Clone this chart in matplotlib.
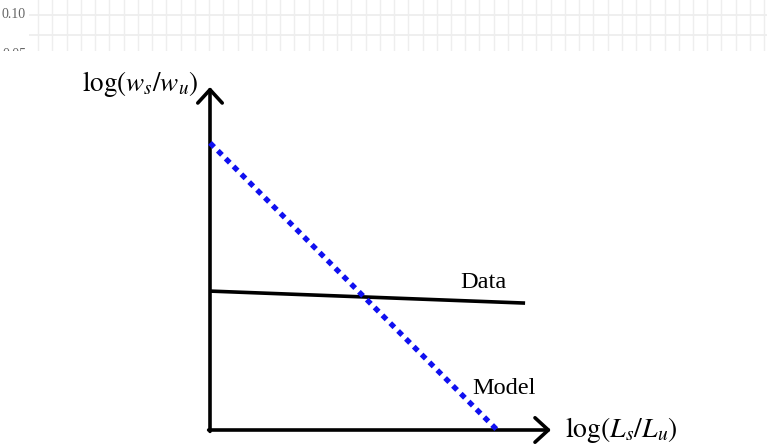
"""
Schematic: log weight ratio vs. log length ratio, comparing the data trend
(nearly flat) with the model prediction (steep slope).
"""

import matplotlib
matplotlib.use("Agg")
import matplotlib.pyplot as plt
from matplotlib.transforms import Bbox, TransformedBbox
import numpy as np

# Schematic endpoints in axis units (origin at the axes corner, arrows at 1.0)
MODEL_X = [0.0, 0.842]
MODEL_Y = [0.837, 0.0]
DATA_X = [0.0, 0.924]
DATA_Y = [0.405, 0.370]

XLABEL = r"$\log(L_s/L_u)$"
YLABEL = r"$\log(w_s/w_u)$"

# Faint strip of a gridded panel along the top edge
STRIP_YTICKS = [0.10, 0.05]
STRIP_YTICKLABELS = ["0.10", "0.05"]
STRIP_XGRID = np.arange(0.0, 52.0, 1.0)

BLUE = "#1010f0"
W, H = 767, 445

plt.rcParams["font.family"] = ["Liberation Serif", "DejaVu Serif"]
plt.rcParams["mathtext.fontset"] = "stix"

fig = plt.figure(figsize=(W / 100, H / 100), dpi=100)

# --- top strip --------------------------------------------------------------
sx = fig.add_axes([29 / W, (H - 51) / H, (W - 29) / W, 51 / H])
sx.set_ylim(0.055, 0.11875)
sx.set_xlim(-0.65, 51.2)
for yv in [0.10, 0.075]:
    sx.axhline(yv, color="#ececec", lw=1.2, zorder=0)
for xv in STRIP_XGRID:
    sx.axvline(xv, color="#eeeeee", lw=1.0, zorder=0)
sx.set_xticks([])
sx.set_yticks([])
for s in sx.spines.values():
    s.set_visible(False)
strip_clip = TransformedBbox(Bbox([[0, (H - 51) / H], [1, 1]]), fig.transFigure)
for val, lab in zip(STRIP_YTICKS, STRIP_YTICKLABELS):
    t = sx.text(-0.004, val, lab, transform=sx.get_yaxis_transform(),
                ha="right", va="center", fontsize=10, color="#666666")
    t.set_clip_box(strip_clip)
    t.set_clip_on(True)

# --- schematic --------------------------------------------------------------
ax = fig.add_axes([210 / W, 15 / H, 341 / W, 343 / H])
ax.set_xlim(0, 1)
ax.set_ylim(0, 1)
ax.axis("off")

arrow = dict(arrowstyle="->,head_length=0.6,head_width=0.55",
             color="black", lw=2.6, mutation_scale=16, shrinkA=0, shrinkB=0)
ax.annotate("", xy=(1.0, 0.0), xytext=(-0.004, 0.0), arrowprops=arrow,
            annotation_clip=False)
ax.annotate("", xy=(0.0, 1.0), xytext=(0.0, -0.004), arrowprops=arrow,
            annotation_clip=False)

ax.plot(DATA_X, DATA_Y, color="black", lw=2.6, solid_capstyle="butt",
        clip_on=False, zorder=3)
ax.plot(MODEL_X, MODEL_Y, color=BLUE, lw=3.8, linestyle=(0, (1.1, 1.0)),
        dash_capstyle="butt", clip_on=False, zorder=4)

ax.text(0.734, 0.43, "Data", fontsize=17.5, ha="left", va="center")
ax.text(0.770, 0.12, "Model", fontsize=17.5, ha="left", va="center")
ax.text(1.04, 0.0, XLABEL, fontsize=20, ha="left", va="center")
ax.text(-0.035, 1.01, YLABEL, fontsize=19.5, ha="right", va="center")

fig.savefig("out.png", dpi=100)
